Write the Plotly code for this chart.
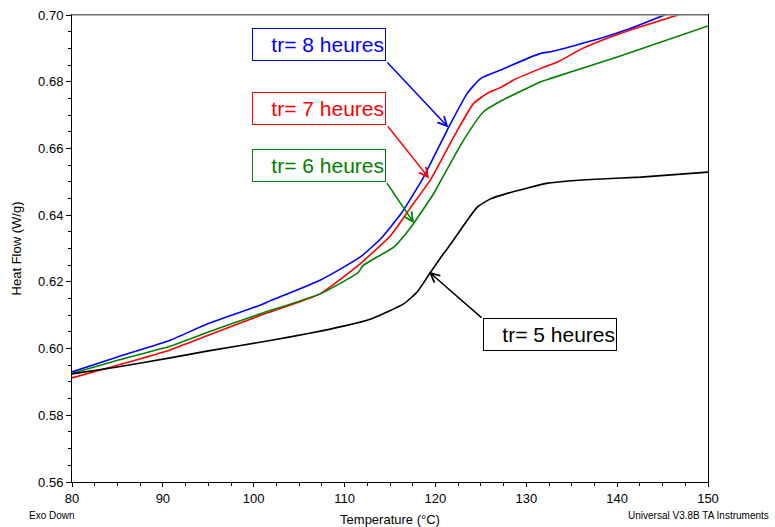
import plotly.graph_objects as go

# ---- data ----
t_8h = [80.0, 85.0, 90.8, 95.0, 100.7, 101.8, 107.3, 111.7, 114.0, 116.2, 118.4, 118.7,
        121.3, 123.5, 125.0, 127.2, 128.0, 131.6, 132.7, 138.2, 141.5, 145.2, 147.0]
hf_8h = [0.5930, 0.5975, 0.6025, 0.6075, 0.6130, 0.6143, 0.6205, 0.6274, 0.6330, 0.6404, 0.6500, 0.6514,
         0.6655, 0.6765, 0.6810, 0.6835, 0.6845, 0.6885, 0.6890, 0.6930, 0.6960, 0.7000, 0.7020]

t_7h = [80.0, 85.0, 90.8, 95.0, 100.7, 107.3, 111.7, 115.1, 117.3, 119.5, 122.0, 124.2,
        125.7, 127.2, 128.6, 131.6, 133.5, 136.2, 138.2, 141.8, 146.7, 150.0]
hf_7h = [0.5912, 0.5950, 0.5996, 0.6040, 0.6099, 0.6164, 0.6254, 0.6340, 0.6424, 0.6508, 0.6634, 0.6735,
         0.6765, 0.6783, 0.6805, 0.6840, 0.6860, 0.6900, 0.6923, 0.6958, 0.7000, 0.7030]

t_6h = [80.0, 85.0, 90.8, 95.0, 100.7, 107.3, 111.5, 112.0, 112.9, 115.4, 117.3, 119.8,
        120.2, 123.1, 125.3, 127.2, 131.6, 132.7, 140.1, 150.0]
hf_6h = [0.5925, 0.5965, 0.6007, 0.6050, 0.6104, 0.6164, 0.6228, 0.6248, 0.6264, 0.6304, 0.6364, 0.6464,
         0.6484, 0.6625, 0.6710, 0.6742, 0.6800, 0.6810, 0.6875, 0.6967]

t_5h = [80.0, 85.0, 90.8, 95.0, 101.8, 106.0, 110.0, 112.9, 116.5, 118.0, 119.1, 120.6,
        121.3, 123.0, 124.6, 126.0, 128.0, 132.4, 137.1, 142.6, 150.0]
hf_5h = [0.5924, 0.5945, 0.5972, 0.5993, 0.6024, 0.6045, 0.6068, 0.6089, 0.6134, 0.6170, 0.6214, 0.6274,
         0.6299, 0.6365, 0.6424, 0.6448, 0.6466, 0.6496, 0.6507, 0.6514, 0.6529]

series = [
    ("tr= 8 heures", t_8h, hf_8h, "#0000ff"),
    ("tr= 7 heures", t_7h, hf_7h, "#ff0000"),
    ("tr= 6 heures", t_6h, hf_6h, "#008000"),
    ("tr= 5 heures", t_5h, hf_5h, "#000000"),
]

# label box centres and arrow (start -> tip), data coordinates
label_pos = [(107.18, 0.6911), (107.18, 0.6721), (107.18, 0.6549), (132.58, 0.6041)]
arrow_start = [(114.56, 0.6862), (114.64, 0.6670), (114.56, 0.6500), (125.23, 0.6089)]
arrow_tip = [(121.42, 0.6663), (119.32, 0.6510), (117.64, 0.6376), (119.29, 0.6230)]

FONT = "Liberation Sans, Arial, sans-serif"

fig = go.Figure()
for name, t, hf, col in series:
    fig.add_trace(go.Scatter(x=t, y=hf, mode="lines", name=name,
                             line=dict(color=col, width=1.6, shape="spline", smoothing=0.5),
                             showlegend=False))

annotations = []
for (name, _, _, col), (lx, ly), (sx, sy), (tx, ty) in zip(series, label_pos, arrow_start, arrow_tip):
    annotations.append(dict(x=lx, y=ly, xref="x", yref="y", text=name, showarrow=False,
                            font=dict(family=FONT, size=21, color=col),
                            bordercolor=col, borderwidth=1, borderpad=1, bgcolor="white",
                            width=130, height=29, align="right"))
    annotations.append(dict(x=tx, y=ty, xref="x", yref="y", ax=sx, ay=sy, axref="x", ayref="y",
                            text="", showarrow=True, arrowhead=5, arrowsize=1.2, arrowwidth=1.5,
                            arrowcolor=col, standoff=0, startstandoff=0))

annotations.append(dict(x=(52 - 72) / 636, y=-0.0728, xref="paper", yref="paper", text="Exo Down",
                        showarrow=False, font=dict(family=FONT, size=10, color="black"),
                        xanchor="center", yanchor="middle"))
annotations.append(dict(x=(771 - 72) / 636, y=-0.0728, xref="paper", yref="paper",
                        text="Universal V3.8B TA Instruments",
                        showarrow=False, font=dict(family=FONT, size=10, color="black"),
                        xanchor="right", yanchor="middle"))

fig.update_layout(
    width=775, height=527,
    margin=dict(l=72, r=67, t=15, b=45, autoexpand=False),
    paper_bgcolor="white", plot_bgcolor="white",
    font=dict(family=FONT, size=13, color="black"),
    annotations=annotations,
    shapes=[dict(type="line", xref="paper", yref="paper", x0=0, x1=1, y0=1, y1=1,
                 line=dict(color="#999999", width=1.5))],
)
fig.update_xaxes(range=[80, 150], dtick=10, tick0=80, showgrid=False, zeroline=False,
                 showline=True, linecolor="black", linewidth=1, mirror=True, automargin=False,
                 ticks="outside", ticklen=4, tickcolor="black",
                 minor=dict(dtick=2.5, ticks="outside", ticklen=3, tickcolor="black"),
                 tickfont=dict(size=13),
                 title=dict(text="Temperature (°C)", font=dict(size=13), standoff=12))
fig.update_yaxes(range=[0.56, 0.70], dtick=0.02, tick0=0.56, tickformat=".2f", showgrid=False,
                 zeroline=False, showline=True, linecolor="black", linewidth=1, mirror=True,
                 automargin=False,
                 ticks="outside", ticklen=5, tickcolor="black",
                 minor=dict(dtick=0.005, ticks="outside", ticklen=3, tickcolor="black"),
                 tickfont=dict(size=13),
                 title=dict(text="Heat Flow (W/g)", font=dict(size=13), standoff=13))

fig.write_html("out.html")
